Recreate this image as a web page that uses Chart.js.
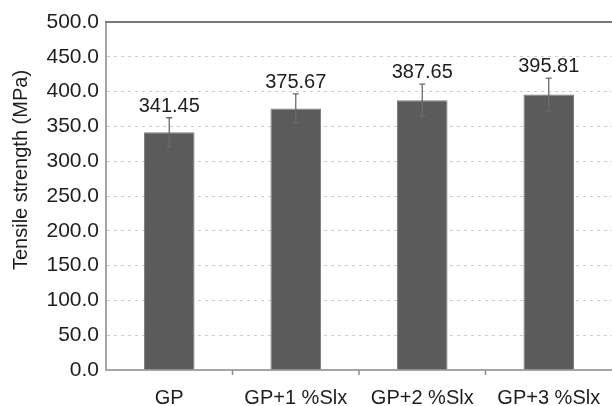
<!DOCTYPE html>
<html>
<head>
<meta charset="utf-8">
<script src="https://cdn.jsdelivr.net/npm/chart.js@4/dist/chart.umd.min.js"></script>
<style>
  html, body { margin: 0; padding: 0; background: #fff; }
</style>
</head>
<body>
<canvas id="tensileChart" width="612" height="406"></canvas>
<script>
'use strict';

var labels = ['GP', 'GP+1 %Slx', 'GP+2 %Slx', 'GP+3 %Slx'];
var strength = [341.45, 375.67, 387.65, 395.81];
var errors = [21, 21, 23, 23.5];
var yTicks = [0, 50, 100, 150, 200, 250, 300, 350, 400, 450, 500];

var font = "'Liberation Sans', Arial, sans-serif";
var textColor = '#1e1e1e';

// error bars, value labels, top frame line, category ticks and the y title
var extras = {
  id: 'extras',
  afterDatasetsDraw: function(chart) {
    var ctx = chart.ctx;
    var xScale = chart.scales.x;
    var yScale = chart.scales.y;
    var meta = chart.getDatasetMeta(0);
    var area = chart.chartArea;

    ctx.save();
    // top line at 500
    ctx.strokeStyle = '#777777';
    ctx.lineWidth = 2;
    ctx.beginPath();
    ctx.moveTo(area.left - 1, area.top);
    ctx.lineTo(area.right, area.top);
    ctx.stroke();

    // short marks between categories under the axis
    ctx.strokeStyle = '#8c8c8c';
    ctx.lineWidth = 1.5;
    ctx.beginPath();
    for (var k = 1; k < labels.length; k++) {
      var bx = (xScale.getPixelForValue(k - 1) + xScale.getPixelForValue(k)) / 2;
      ctx.moveTo(bx, area.bottom);
      ctx.lineTo(bx, area.bottom + 5);
    }
    ctx.stroke();

    meta.data.forEach(function(bar, i) {
      var top = yScale.getPixelForValue(strength[i] + errors[i]);
      var bottom = yScale.getPixelForValue(strength[i] - errors[i]);
      ctx.strokeStyle = '#6a6a6a';
      ctx.lineWidth = 1.3;
      ctx.beginPath();
      ctx.moveTo(bar.x, top);
      ctx.lineTo(bar.x, bottom);
      ctx.moveTo(bar.x - 3, top);
      ctx.lineTo(bar.x + 3, top);
      ctx.moveTo(bar.x - 3, bottom);
      ctx.lineTo(bar.x + 3, bottom);
      ctx.stroke();

      ctx.fillStyle = textColor;
      ctx.font = '20px ' + font;
      ctx.textAlign = 'center';
      ctx.textBaseline = 'alphabetic';
      ctx.fillText(strength[i].toFixed(2), bar.x, top - 6);
    });

    ctx.translate(27, 170);
    ctx.rotate(-Math.PI / 2);
    ctx.font = '20px ' + font;
    ctx.textAlign = 'center';
    ctx.textBaseline = 'alphabetic';
    ctx.fillStyle = textColor;
    ctx.fillText('Tensile strength (MPa)', 0, 0);
    ctx.restore();
  }
};

var chart = new Chart(document.getElementById('tensileChart'), {
  type: 'bar',
  data: {
    labels: labels,
    datasets: [{
      data: strength,
      backgroundColor: '#5b5b5b',
      borderColor: '#7d7d7d',
      borderWidth: 1,
      categoryPercentage: 1,
      barPercentage: 0.4
    }]
  },
  options: {
    responsive: false,
    animation: false,
    layout: { padding: { top: 22, right: 0, left: 0, bottom: 0 } },
    plugins: {
      legend: { display: false },
      tooltip: { enabled: false }
    },
    scales: {
      x: {
        afterFit: function(scale) {
          scale.height = 36;
          scale.paddingLeft = 0;
          scale.paddingRight = 0;
        },
        grid: { display: false, tickLength: 4 },
        border: { color: '#a6a6a6', width: 2 },
        ticks: {
          color: textColor,
          font: { size: 20, family: font },
          padding: 12,
          maxRotation: 0
        }
      },
      y: {
        min: 0,
        max: 500,
        afterFit: function(scale) { scale.width = 106; },
        afterBuildTicks: function(scale) {
          scale.ticks = yTicks.map(function(v) { return { value: v }; });
        },
        grid: {
          drawTicks: false,
          color: function(c) {
            return (c.tick && (c.tick.value === 500 || c.tick.value === 0)) ? 'rgba(0,0,0,0)' : '#cccccc';
          },
          lineWidth: 1
        },
        border: { color: '#a6a6a6', width: 2, dash: [3, 4] },
        ticks: {
          color: textColor,
          font: { size: 21, family: font },
          padding: 7,
          callback: function(v) { return Number(v).toFixed(1); }
        }
      }
    }
  },
  plugins: [extras]
});
</script>
</body>
</html>
